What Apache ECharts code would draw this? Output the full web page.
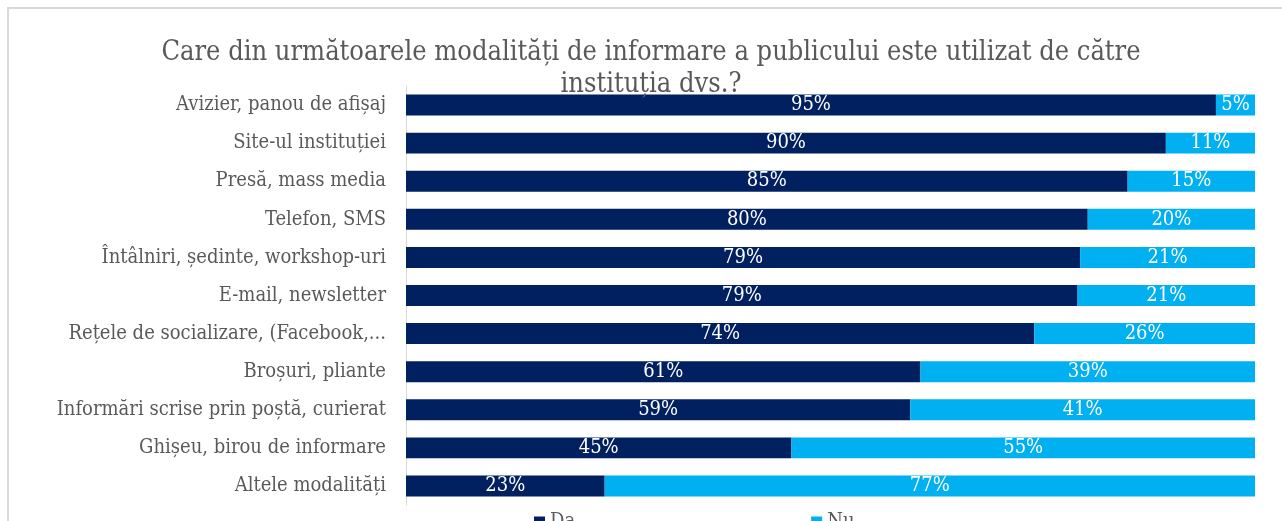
<!DOCTYPE html>
<html>
<head>
<meta charset="utf-8">
<script src="https://cdn.jsdelivr.net/npm/echarts@6/dist/echarts.min.js"></script>
<style>
  html, body { margin: 0; padding: 0; background: #fff; }
  #frame { position: absolute; left: 7px; top: 7px; width: 1290px; height: 530px; border: 2px solid #d9d9d9; box-sizing: border-box; }
  #chart { position: absolute; left: 0; top: 0; width: 1282px; height: 521px; }
</style>
</head>
<body>
<div id="frame"></div>
<div id="chart"></div>
<script>
// categories, top to bottom
const categories = [
  'Avizier, panou de afișaj',
  'Site-ul instituției',
  'Presă, mass media',
  'Telefon, SMS',
  'Întâlniri, ședinte, workshop-uri',
  'E-mail, newsletter',
  'Rețele de socializare, (Facebook,...',
  'Broșuri, pliante',
  'Informări scrise prin poștă, curierat',
  'Ghișeu, birou de informare',
  'Altele modalități'
];
const daValues = [95.4, 89.5, 85.0, 80.3, 79.4, 79.1, 74.0, 60.6, 59.4, 45.4, 23.4];
const nuValues = [4.6, 10.5, 15.0, 19.7, 20.6, 20.9, 26.0, 39.4, 40.6, 54.6, 76.6];

const font = '"DejaVu Serif Condensed", "DejaVu Serif", serif';
const chart = echarts.init(document.getElementById('chart'));

const labelStyle = {
  show: true,
  position: 'inside',
  color: '#ffffff',
  fontFamily: font,
  fontSize: 20,
  formatter: p => Math.round(p.value) + '%'
};

chart.setOption({
  animation: false,
  title: {
    text: 'Care din următoarele modalități de informare a publicului este utilizat de către\ninstituția dvs.?',
    left: 646,
    top: 32,
    textAlign: 'center',
    textStyle: {
      fontFamily: font,
      fontSize: 27,
      fontWeight: 'normal',
      color: '#595959',
      lineHeight: 32
    }
  },
  legend: {
    data: ['Da', 'Nu'],
    left: 529,
    top: 507,
    itemWidth: 11,
    itemHeight: 11,
    itemGap: 236,
    icon: 'rect',
    textStyle: { fontFamily: font, fontSize: 20, color: '#595959' }
  },
  grid: { left: 406, right: 27, top: 86, bottom: 16, containLabel: false },
  xAxis: {
    type: 'value',
    min: 0,
    max: 100,
    show: false
  },
  yAxis: {
    type: 'category',
    data: categories,
    inverse: true,
    axisLine: { show: true, lineStyle: { color: '#d9d9d9', width: 1 } },
    axisTick: { show: false },
    axisLabel: {
      fontFamily: font,
      fontSize: 20,
      color: '#595959',
      margin: 20
    }
  },
  series: [
    {
      name: 'Da',
      type: 'bar',
      stack: 'total',
      data: daValues,
      barCategoryGap: '45%',
      itemStyle: { color: '#002060' },
      label: labelStyle
    },
    {
      name: 'Nu',
      type: 'bar',
      stack: 'total',
      data: nuValues,
      itemStyle: { color: '#00b0f0' },
      label: labelStyle
    }
  ]
});
</script>
</body>
</html>
